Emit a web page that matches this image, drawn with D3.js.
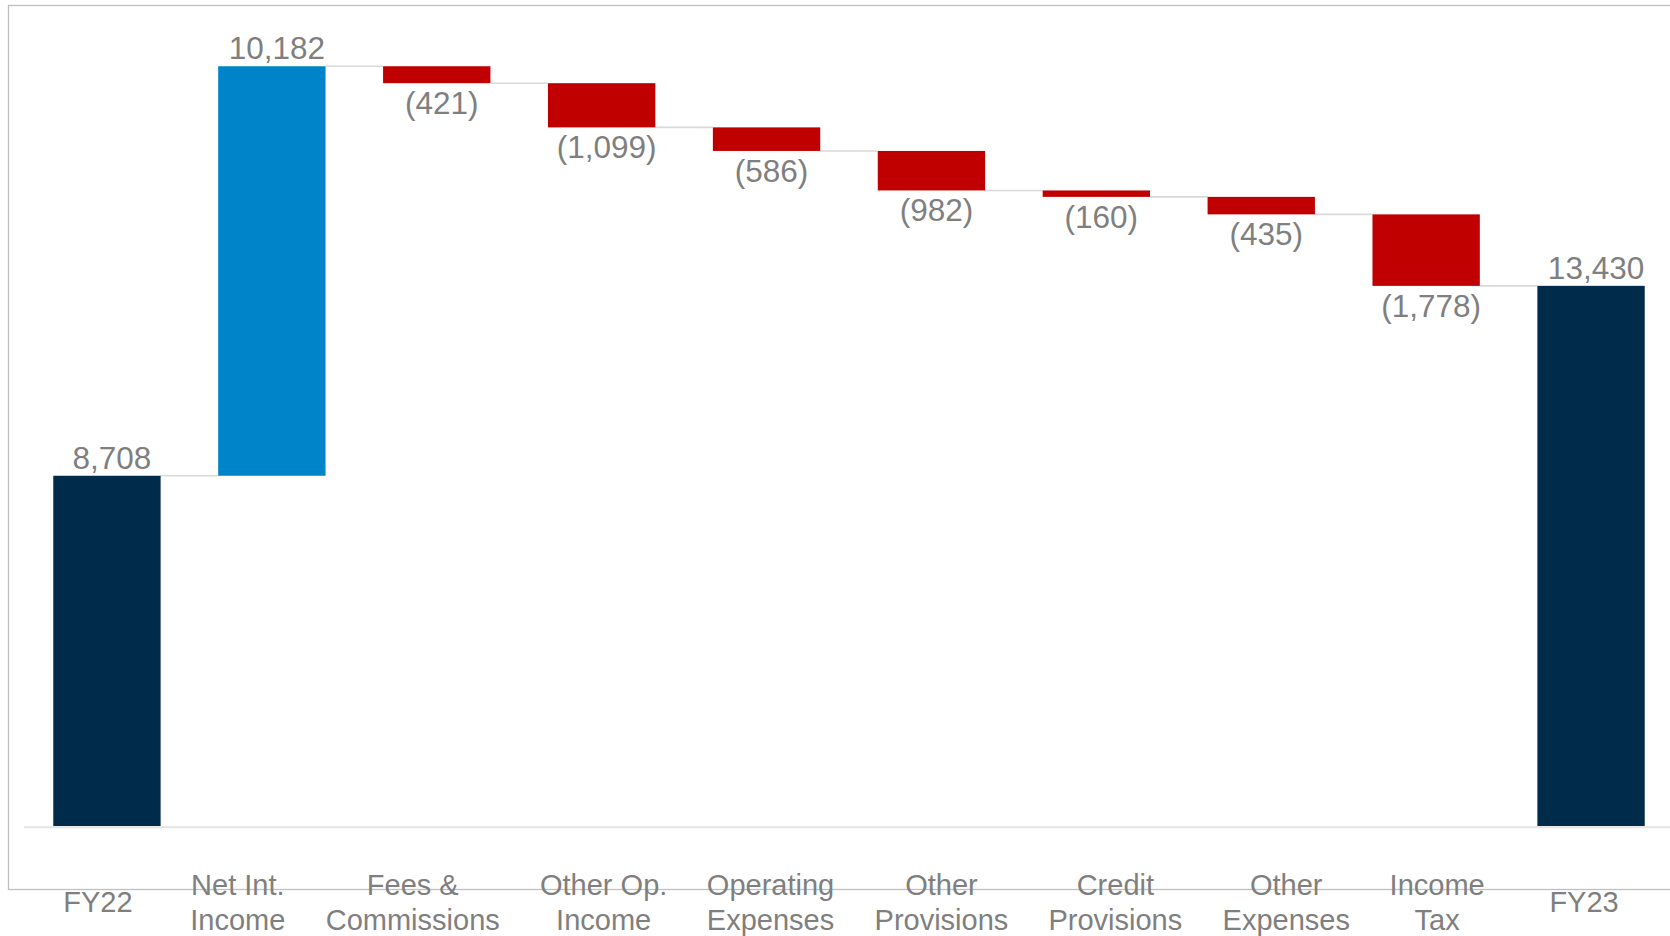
<!DOCTYPE html>
<html>
<head>
<meta charset="utf-8">
<script src="https://cdn.jsdelivr.net/npm/d3@7"></script>
<style>
  html, body { margin: 0; padding: 0; background: #ffffff; }
  svg { display: block; }
  text { font-family: "Liberation Sans", Arial, Helvetica, sans-serif; }
</style>
</head>
<body>
<svg id="chart" width="1670" height="936"></svg>
<script>
// Profit bridge FY22 -> FY23
const categories = [
  "FY22", "Net Int.\nIncome", "Fees &\nCommissions", "Other Op.\nIncome",
  "Operating\nExpenses", "Other\nProvisions", "Credit\nProvisions",
  "Other\nExpenses", "Income\nTax", "FY23"
];
const values = [8708, 10182, -421, -1099, -586, -982, -160, -435, -1778, 13430];
const kinds = ["total", "increase", "decrease", "decrease", "decrease",
               "decrease", "decrease", "decrease", "decrease", "total"];

// horizontal nudge of each category caption relative to its bar centre
const captionNudge = [-9, -34, -24, 2, 4, 10, 19, 25, 11, -7];

const W = 1670, H = 936;
const colors = { total: "#012b4a", increase: "#0084c9", decrease: "#c00000" };
const textGray = "#7f7f7f";

const svg = d3.select("#chart");

const x = d3.scaleBand()
  .domain(categories)
  .range([24.5, 1673.5])
  .paddingInner(0.349)
  .paddingOuter(0.1745);

const y = d3.scaleLinear()
  .domain([0, 20000])
  .range([826, 826 - 20000 * 0.04022]);

// build floating segments
let running = 0;
const bars = categories.map((c, i) => {
  const v = values[i];
  let lo, hi, level;
  if (kinds[i] === "total") {
    lo = 0; hi = v; running = v; level = v;
  } else {
    const start = running;
    running = start + v;
    lo = Math.min(start, running);
    hi = Math.max(start, running);
    level = running;
  }
  return { cat: c, value: v, kind: kinds[i], lo, hi, level, i };
});

// baseline
svg.append("line")
  .attr("x1", 24).attr("x2", W)
  .attr("y1", y(0) + 1.3).attr("y2", y(0) + 1.3)
  .attr("stroke", "#e4e4e4").attr("stroke-width", 2);

// connectors between consecutive bars
const links = bars.slice(0, -1).map((b, i) => ({
  x1: x(b.cat) + x.bandwidth(),
  x2: x(bars[i + 1].cat),
  level: b.level
}));
svg.append("g").selectAll("line").data(links).join("line")
  .attr("x1", d => d.x1).attr("x2", d => d.x2)
  .attr("y1", d => y(d.level)).attr("y2", d => y(d.level))
  .attr("stroke", "#d9d9d9").attr("stroke-width", 1.6);

// bars
svg.append("g").selectAll("rect").data(bars).join("rect")
  .attr("x", d => x(d.cat))
  .attr("width", x.bandwidth())
  .attr("y", d => y(d.hi))
  .attr("height", d => y(d.lo) - y(d.hi))
  .attr("fill", d => colors[d.kind]);

// value labels
const fmt = d3.format(",");
svg.append("g").selectAll("text").data(bars).join("text")
  .attr("x", d => x(d.cat) + x.bandwidth() / 2 + 5)
  .attr("y", d => d.value >= 0 ? y(d.hi) - 7 : y(d.lo) + 31)
  .attr("text-anchor", "middle")
  .attr("font-size", 31.5)
  .attr("fill", textGray)
  .text(d => d.value >= 0 ? fmt(d.value) : "(" + fmt(-d.value) + ")");

// outer frame
svg.append("rect")
  .attr("x", 8.5).attr("y", 5.5)
  .attr("width", W + 20).attr("height", 884)
  .attr("fill", "none")
  .attr("stroke", "#bfbfbf").attr("stroke-width", 1.3);

// category captions
const cap = svg.append("g").selectAll("text").data(bars).join("text")
  .attr("text-anchor", "middle")
  .attr("font-size", 29)
  .attr("fill", textGray)
  .attr("x", d => x(d.cat) + x.bandwidth() / 2 + captionNudge[d.i])
  .attr("y", d => d.cat.includes("\n") ? 894.5 : 912);

cap.each(function(d) {
  const lines = d.cat.split("\n");
  const t = d3.select(this);
  const cx = x(d.cat) + x.bandwidth() / 2 + captionNudge[d.i];
  lines.forEach((ln, k) => {
    t.append("tspan")
      .attr("x", cx)
      .attr("dy", k === 0 ? 0 : 35.5)
      .text(ln);
  });
});
</script>
</body>
</html>
